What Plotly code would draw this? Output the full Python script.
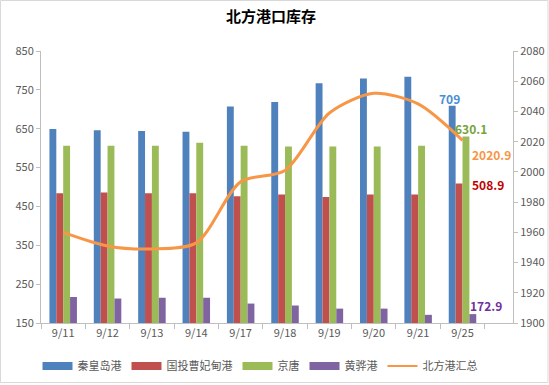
import plotly.graph_objects as go

categories = ["9/11", "9/12", "9/13", "9/14", "9/17", "9/18", "9/19", "9/20", "9/21", "9/25"]
qhd = [649, 646, 644, 642, 707, 719, 767, 779, 784, 709]
cfd = [484, 486, 484, 484, 476, 481, 474, 481, 481, 508.9]
jingtang = [606, 606, 606, 614, 606, 604, 604, 604, 606, 630.1]
huanghua = [217, 213, 215, 215, 200, 195, 187, 187, 171, 172.9]
total = [1960, 1951, 1949, 1953, 1993.5, 2001, 2039, 2052, 2045, 2020.9]

left_ticks = [150, 250, 350, 450, 550, 650, 750, 850]
right_ticks = [1900, 1920, 1940, 1960, 1980, 2000, 2020, 2040, 2060, 2080]

FONT = "Noto Sans CJK SC"
W, H = 549, 385
ML, MR, MT, MB = 41, 36, 51, 62
PW, PH = W - ML - MR, H - MT - MB

fig = go.Figure()
bar_specs = [("秦皇岛港", qhd, "#4F81BD"), ("国投曹妃甸港", cfd, "#C0504D"),
             ("京唐", jingtang, "#9BBB59"), ("黄骅港", huanghua, "#8064A2")]
for name, vals, col in bar_specs:
    fig.add_trace(go.Bar(x=categories, y=vals, name=name, marker_color=col,
                         marker_line_width=0, yaxis="y", showlegend=False))
fig.add_trace(go.Scatter(x=categories, y=total, name="北方港汇总", mode="lines",
                         line=dict(color="#F79646", width=3, shape="spline", smoothing=0.8),
                         yaxis="y2", showlegend=False))

# legend entries (wide rectangular swatches like the reference)
for name, vals, col in bar_specs:
    fig.add_trace(go.Scatter(x=[None], y=[None], mode="lines", name=name,
                             line=dict(color=col, width=8), yaxis="y"))
fig.add_trace(go.Scatter(x=[None], y=[None], mode="lines", name="北方港汇总",
                         line=dict(color="#F79646", width=2), yaxis="y2"))

last = categories[-1]
ann = [
    dict(text="709", y=qhd[-1], yref="y", xshift=-13, yshift=7, color="#4A8FD6"),
    dict(text="630.1", y=jingtang[-1], yref="y", xshift=8, yshift=8, color="#77A33A"),
    dict(text="2020.9", y=total[-1], yref="y2", xshift=29, yshift=-14, color="#F79646"),
    dict(text="508.9", y=cfd[-1], yref="y", xshift=25, yshift=-1, color="#C00000"),
    dict(text="172.9", y=huanghua[-1], yref="y", xshift=23, yshift=9, color="#7030A0"),
]
annotations = []
for a in ann:
    annotations.append(dict(x=last, y=a["y"], xref="x", yref=a["yref"], text=a["text"],
                            showarrow=False, xshift=a["xshift"], yshift=a["yshift"],
                            font=dict(family=FONT, size=12, color=a["color"], weight="bold")))

fig.update_layout(
    width=W, height=H,
    margin=dict(l=ML, r=MR, t=MT, b=MB, pad=0, autoexpand=False),
    paper_bgcolor="white", plot_bgcolor="white",
    title=dict(text="<b>北方港口库存</b>", x=271 / W, xanchor="center", y=1 - 17 / H, yanchor="middle",
               font=dict(family=FONT, size=15, color="black")),
    barmode="group", bargap=0.38, bargroupgap=0.0,
    font=dict(family=FONT, size=11, color="#595959"),
    xaxis=dict(type="category", showline=True, linecolor="#BFBFBF", linewidth=1,
               ticks="outside", tickson="boundaries", ticklen=5, tickcolor="#BFBFBF",
               showgrid=False, tickfont=dict(size=11, color="#595959")),
    yaxis=dict(range=[150, 850], tickvals=left_ticks, showgrid=False, zeroline=False,
               showline=True, linecolor="#BFBFBF", ticks="outside", ticklen=4, tickcolor="#BFBFBF",
               tickfont=dict(size=11, color="#595959")),
    yaxis2=dict(range=[1900, 2080], tickvals=right_ticks, overlaying="y", side="right",
                showgrid=False, zeroline=False, showline=True, linecolor="#BFBFBF",
                ticks="outside", ticklen=4, tickcolor="#BFBFBF",
                tickfont=dict(size=11, color="#595959")),
    legend=dict(orientation="h", x=(260 - ML) / PW,
                xanchor="center", y=-(366 - MT - PH) / PH, yanchor="middle",
                font=dict(size=11, color="#595959"), itemwidth=30, traceorder="normal",
                bgcolor="rgba(0,0,0,0)", tracegroupgap=0),
    annotations=annotations,
    shapes=[dict(type="rect", xref="paper", yref="paper",
                 x0=(0.5 - ML) / PW, x1=(548 - ML) / PW,
                 y0=(H - 382.5 - MB) / PH, y1=(H - 0.5 - MB) / PH,
                 line=dict(color="#D9D9D9", width=1), layer="below")],
    showlegend=True,
)

fig.write_html("out.html", config={"displayModeBar": False},
               post_script="document.body.style.margin='0';document.body.style.overflow='hidden';")
